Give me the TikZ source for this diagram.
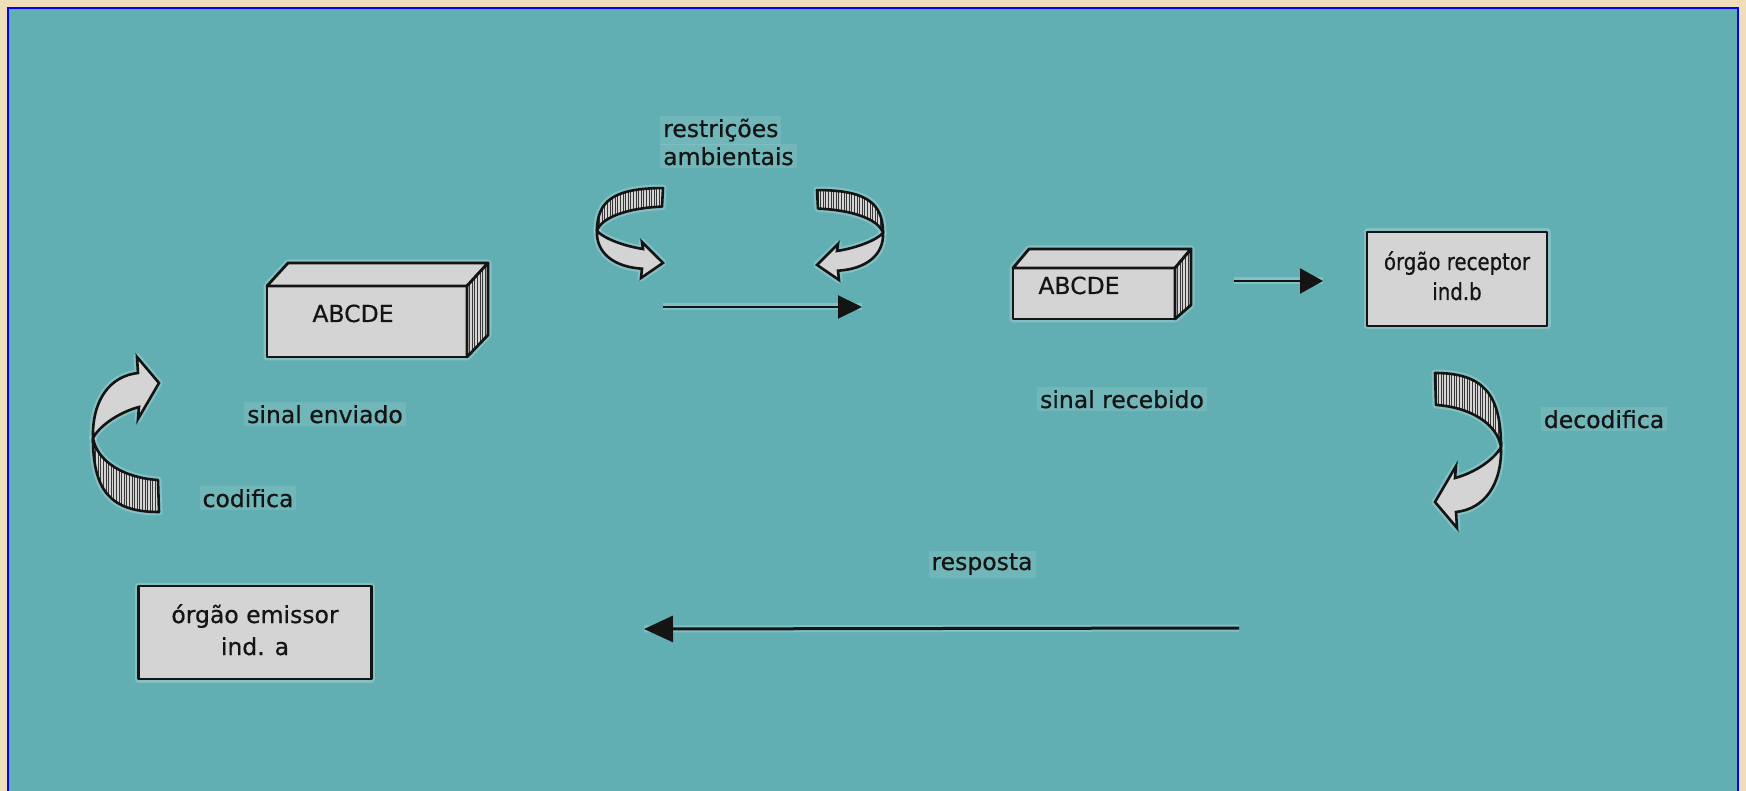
\documentclass[tikz,border=0pt]{standalone}
\usepackage{fontspec}
\setmainfont{DejaVu Sans}[FakeBold=0.6]
\usetikzlibrary{arrows.meta}

\definecolor{parchment}{RGB}{240,222,186}
\definecolor{panel}{RGB}{97,175,179}
\definecolor{frameblue}{RGB}{0,0,255}
\definecolor{boxgray}{RGB}{212,212,212}
\definecolor{ink}{RGB}{20,20,20}

\tikzset{
  label text/.style={font=\fontsize{23.5}{28}\selectfont, text=ink, inner sep=3pt, anchor=base,
    fill=white, fill opacity=0.1, text opacity=1},
  halo/.style={draw=white, draw opacity=0.22, line width=7pt, line join=round},
  box face/.style={draw=ink, line width=2.8pt, fill=boxgray, line join=round},
  organ box/.style={box face, inner sep=0pt, outer sep=0pt},
  flow arrow/.style={draw=ink, line width=2.2pt, -{Triangle[length=24pt,width=23pt]}},
  hatch line/.style={line width=0.75pt, draw=ink!85},
  ribbon edge/.style={draw=ink, line width=2.6pt, line join=round},
}

% back (hatched) half of a curled ribbon arrow, twist point at the origin
\newcommand\ribbonback{(0,0) .. controls (0,52) and (17,74) .. (66,74) -- (65,42) .. controls (32,40) and (4,24) .. (0,0) -- cycle}
% front half of the ribbon, ending in the arrow head
\newcommand\ribbonfront{(0,0) .. controls (-1,-38) and (17,-62) .. (45,-65) -- (44,-81) -- (66,-55) -- (45,-19) -- (46,-31) .. controls (27,-26) and (7,-13) .. (0,0) -- cycle}

\newcommand\curlarrow[1]{%
  \begin{scope}[#1]
    \path[halo] \ribbonback;
    \path[halo] \ribbonfront;
    \fill[boxgray] \ribbonback;
    \begin{scope}
      \clip \ribbonback;
      \foreach \hx in {0,2.6,...,68} \draw[hatch line] (\hx,-2) -- (\hx,80);
    \end{scope}
    \draw[ribbon edge] \ribbonback;
    \draw[ribbon edge, fill=boxgray, line join=miter] \ribbonfront;
  \end{scope}}

\begin{document}
\begin{tikzpicture}[x=1pt, y=-1pt]
  % page and panel
  \fill[parchment] (0,0) rectangle (1746,791);
  \path[use as bounding box] (0,0) rectangle (1746,791);
  \fill[panel] (8,8) rectangle (1738,791);
  \draw[frameblue, line width=2.5pt] (8,791) -- (8,8) -- (1738,8) -- (1738,791);

  % ---- sent signal block (3D) ----
  \path[halo] (267,286) -- (288,263) -- (488,263) -- (488,335) -- (467,357) -- (267,357) -- cycle;
  \node[organ box, minimum width=200pt, minimum height=71pt, anchor=north west] (sent) at (267,286) {};
  \draw[box face] (sent.north west) -- ++(21,-23) -- ++(200,0) -- (sent.north east) -- cycle;
  \fill[boxgray] (sent.north east) -- ++(21,-23) -- ++(0,72) -- (sent.south east) -- cycle;
  \begin{scope}
    \clip (sent.north east) -- ++(21,-23) -- ++(0,72) -- (sent.south east) -- cycle;
    \foreach \hx in {467,469.6,...,490} \draw[hatch line] (\hx,255) -- (\hx,360);
  \end{scope}
  \draw[box face, fill=none] (sent.north east) -- ++(21,-23) -- ++(0,72) -- (sent.south east) -- cycle;
  \node[label text, fill=none] (sentword) at (353,322) {ABCDE};

  % ---- received signal block (3D) ----
  \path[halo] (1013,268) -- (1029,249) -- (1191,249) -- (1191,305) -- (1175,319) -- (1013,319) -- cycle;
  \node[organ box, minimum width=162pt, minimum height=51pt, anchor=north west] (recvd) at (1013,268) {};
  \draw[box face] (recvd.north west) -- ++(16,-19) -- ++(162,0) -- (recvd.north east) -- cycle;
  \fill[boxgray] (recvd.north east) -- ++(16,-19) -- ++(0,56) -- (recvd.south east) -- cycle;
  \begin{scope}
    \clip (recvd.north east) -- ++(16,-19) -- ++(0,56) -- (recvd.south east) -- cycle;
    \foreach \hx in {1175,1177.6,...,1195} \draw[hatch line] (\hx,240) -- (\hx,325);
  \end{scope}
  \draw[box face, fill=none] (recvd.north east) -- ++(16,-19) -- ++(0,56) -- (recvd.south east) -- cycle;
  \node[label text, fill=none] (recvdword) at (1079,294) {ABCDE};

  % ---- organ boxes ----
  \node[organ box, minimum width=180pt, minimum height=94pt, halo] (receptorhalo) at (1457,279) {};
  \node[organ box, minimum width=180pt, minimum height=94pt] (receptor) at (1457,279) {};
  \node[label text, fill=none] (receptor1) at (1457,270) {\scalebox{0.84}[1]{órgão receptor}};
  \node[label text, fill=none] (receptor2) at (1457,300) {\scalebox{0.84}[1]{ind.b}};

  \node[organ box, minimum width=233pt, minimum height=93pt, halo] (emissorhalo) at (255,632.5) {};
  \node[organ box, minimum width=233pt, minimum height=93pt] (emissor) at (255,632.5) {};
  \node[label text, fill=none] (emissor1) at (255,623) {órgão emissor};
  \node[label text, fill=none] (emissor2) at (255,655) {ind. a};

  % ---- labels ----
  \node[label text, anchor=base west] (restr1) at (660,137) {restrições};
  \node[label text, anchor=base west] (restr2) at (660,165) {ambientais};
  \node[label text] (sentlbl) at (325,423) {sinal enviado};
  \node[label text] (codlbl) at (248,507) {codifica};
  \node[label text] (recvdlbl) at (1122,408) {sinal recebido};
  \node[label text] (decodlbl) at (1604,428) {decodifica};
  \node[label text] (resplbl) at (982,570) {resposta};

  % ---- curled ribbon arrows ----
  \curlarrow{shift={(93,438)}}
  \curlarrow{shift={(1501,447)}, rotate=180}
  \curlarrow{shift={(597,231)}, yscale=-0.58}
  \curlarrow{shift={(883,233)}, xscale=-1, yscale=-0.58}

  % ---- straight arrows ----
  \coordinate (travelA) at (663,307);
  \coordinate (travelB) at (862,307);
  \path[halo] (travelA) -- (travelB);
  \draw[flow arrow] (travelA) -- (travelB);

  \coordinate (arriveA) at (1234,281);
  \coordinate (arriveB) at (1323,281);
  \path[halo] (arriveA) -- (arriveB);
  \draw[flow arrow, -{Triangle[length=23pt,width=25pt]}] (arriveA) -- (arriveB);

  \coordinate (replyA) at (1239,628);
  \coordinate (replyB) at (644,629);
  \path[halo] (replyA) -- (replyB);
  \draw[flow arrow, line width=3pt, -{Triangle[length=29pt,width=26pt]}] (replyA) -- (replyB);
\end{tikzpicture}
\end{document}
